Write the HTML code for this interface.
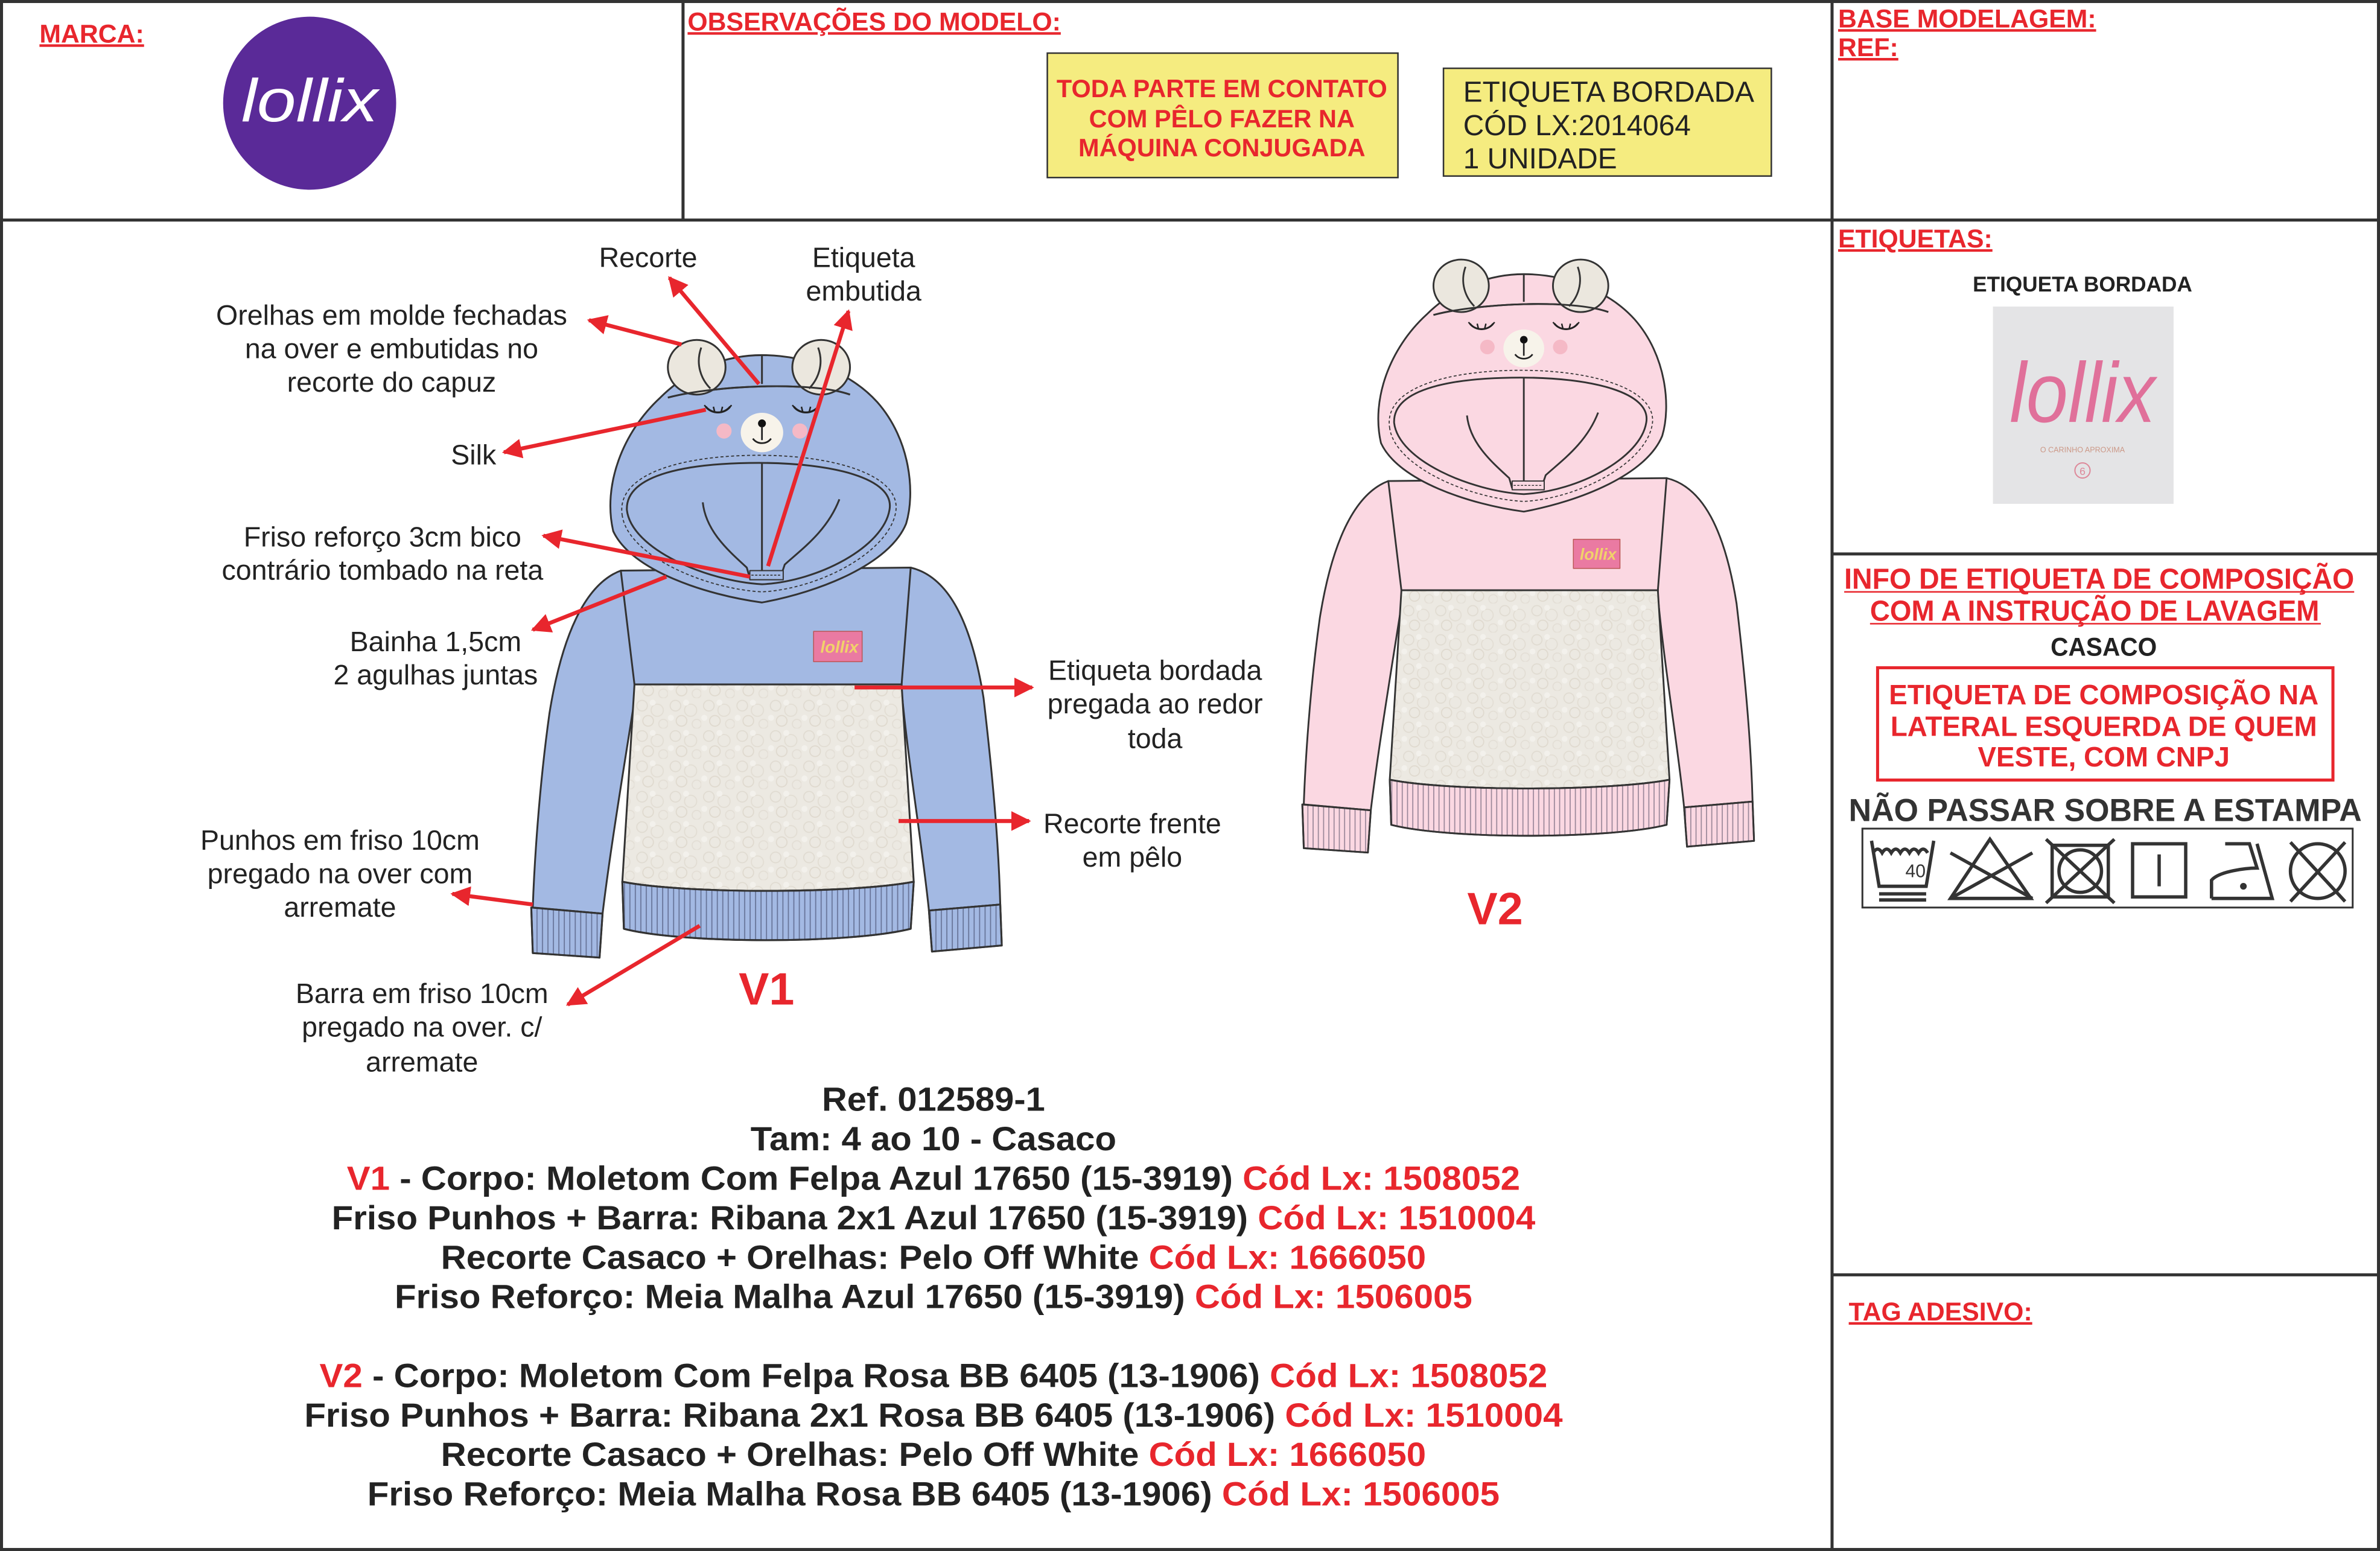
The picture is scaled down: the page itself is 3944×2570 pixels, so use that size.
<!DOCTYPE html>
<html><head><meta charset="utf-8"><style>
html,body{margin:0;padding:0;background:#fff;}
svg{display:block;}
text{font-family:"Liberation Sans",Arial,sans-serif;}
.a{font-size:18.5px;fill:#222;text-anchor:middle;}
.h{font-size:17px;font-weight:bold;fill:#e8262d;text-decoration:underline;}
.n{font-family:"Liberation Sans Narrow","Liberation Sans",sans-serif;font-weight:bold;}
.b{font-size:22px;font-weight:bold;fill:#222;text-anchor:middle;}
.r{fill:#e8262d;}
.ar{stroke:#e8262d;stroke-width:2.6;fill:none;marker-end:url(#ah);}
</style></head><body>
<svg width="3944" height="2570" viewBox="0 0 1568 1022" preserveAspectRatio="none" xmlns="http://www.w3.org/2000/svg">
<defs>
<marker id="ah" viewBox="0 0 10 10" refX="9" refY="5" markerWidth="5" markerHeight="5" orient="auto" markerUnits="strokeWidth"><path d="M0,0 L10,5 L0,10 Z" fill="#e8262d"/></marker>
<pattern id="rib" width="3.6" height="10" patternUnits="userSpaceOnUse"><line x1="1" y1="0" x2="1" y2="10" stroke="rgba(30,30,60,0.45)" stroke-width="0.7"/></pattern>
<pattern id="sh" width="22" height="20" patternUnits="userSpaceOnUse">
<rect width="22" height="20" fill="#ece9e2"/>
<circle cx="5" cy="5" r="3.5" fill="none" stroke="#e0dbd1" stroke-width="0.7"/>
<circle cx="15" cy="8" r="4" fill="none" stroke="#e2ddd3" stroke-width="0.7"/>
<circle cx="9" cy="15" r="3.5" fill="none" stroke="#dfd9ce" stroke-width="0.7"/>
<circle cx="19" cy="17" r="3" fill="none" stroke="#e3ded5" stroke-width="0.7"/>
<circle cx="2" cy="13" r="2" fill="#f3f1ec"/>
<circle cx="12" cy="3" r="2" fill="#f3f1ec"/>
</pattern>
<g id="hoodie" stroke="#333" stroke-width="1.2" stroke-linejoin="round">
 <path d="M409,376 C385,385 370,420 362,470 C355,520 352,570 351,598 L397,602 C402,560 412,500 419,455 L419,390 Z" style="fill:var(--b)"/>
 <path d="M600,374 C625,380 640,410 648,460 C655,520 658,560 659,596 L612,600 C608,560 598,500 594,455 L594,390 Z" style="fill:var(--b)"/>
 <path d="M350,598 L397,602 L395,631 L351,628 Z" style="fill:var(--b)"/>
 <path d="M350,598 L397,602 L395,631 L351,628 Z" fill="url(#rib)"/>
 <path d="M612,600 L659,596 L660,623 L614,627 Z" style="fill:var(--b)"/>
 <path d="M612,600 L659,596 L660,623 L614,627 Z" fill="url(#rib)"/>
 <path d="M409,376 L600,374 L594,451 L418,451 Z" style="fill:var(--b)"/>
 <path d="M418,451 L594,451 L602,581 C560,589 450,589 410,581 Z" fill="url(#sh)"/>
 <path d="M410,581 C450,589 560,589 602,581 L600,612 C560,622 450,622 411,612 Z" style="fill:var(--b)"/>
 <path d="M410,581 C450,589 560,589 602,581 L600,612 C560,622 450,622 411,612 Z" fill="url(#rib)"/>
 <path d="M404,350 C397,320 410,285 435,262 C455,242 480,234 502,234 C530,234 560,245 578,265 C600,290 603,325 597,345 C586,372 540,390 502,397 C465,392 416,376 404,350 Z" style="fill:var(--b)"/>
 <path d="M440,262 C470,254 535,251 560,260" fill="none"/>
 <path d="M502,234 L502,253" fill="none"/>
 <ellipse cx="459" cy="242" rx="19" ry="18" fill="#ebe7de"/>
 <ellipse cx="541" cy="242" rx="19" ry="18" fill="#ebe7de"/>
 <path d="M462,229 C458,240 462,250 468,256" fill="none"/>
 <path d="M539,229 C543,240 539,250 533,256" fill="none"/>
 <path d="M440,262 C470,254 535,251 560,260" fill="none"/>
 <path d="M410,340 C405,312 450,300 500,300 C552,300 595,314 590,338 C585,364 540,388 502,390 C464,388 414,366 410,340 Z" fill="none" stroke-dasharray="2,1.5" stroke-width="0.7"/>
 <path d="M413,336 C412,312 455,305 500,305 C548,305 590,315 586,336 C582,360 540,383 502,385 C466,383 416,362 413,336 Z" style="fill:var(--b)"/>
 <path d="M502,305 L502,380" fill="none"/>
 <path d="M463,331 C465,350 480,363 492,374 L494,381" fill="none"/>
 <path d="M553,329 C545,350 528,362 517,372 L514,381" fill="none"/>
 <rect x="494" y="376" width="22" height="6" style="fill:var(--b)" stroke-width="0.8"/>
 <line x1="495" y1="379" x2="515" y2="379" stroke-dasharray="1.5,1" stroke-width="0.6"/>
 <path d="M465,268 C469,273 477,273 481,268" fill="none" stroke="#222" stroke-width="1.3"/>
 <path d="M523,268 C527,273 535,273 539,268" fill="none" stroke="#222" stroke-width="1.3"/>
 <path d="M467,270 l-3,-3 M471,272 l-1,-4 M475,272 l1,-4 M479,270 l3,-3 M525,270 l-3,-3 M529,272 l-1,-4 M533,272 l1,-4 M537,270 l3,-3" stroke="#222" stroke-width="1"/>
 <circle cx="477" cy="284" r="5" fill="#f5b9c6" stroke="none"/>
 <circle cx="527" cy="284" r="5" fill="#f5b9c6" stroke="none"/>
 <ellipse cx="502" cy="285" rx="14" ry="13" fill="#f7f3ea" stroke="none"/>
 <circle cx="502" cy="279" r="2.6" fill="#111" stroke="none"/>
 <path d="M502,281 L502,290 M496,289 C499,293 505,293 508,289" fill="none" stroke="#222" stroke-width="1.1"/>
 <rect x="536" y="416" width="32" height="20" fill="#ea7aa2" stroke="#b55" stroke-width="0.6"/>
 <text x="553" y="430" font-size="11" font-style="italic" font-weight="bold" fill="#f1d26a" stroke="none" text-anchor="middle" font-family="Liberation Serif, serif">lollix</text>
</g>
</defs>

<g stroke="#333" stroke-width="2" fill="none">
<rect x="1" y="1" width="1566" height="1020"/>
<line x1="450" y1="1" x2="450" y2="145"/>
<line x1="1207" y1="1" x2="1207" y2="1021"/>
<line x1="1" y1="145" x2="1567" y2="145"/>
<line x1="1207" y1="365" x2="1567" y2="365"/>
<line x1="1207" y1="840" x2="1567" y2="840"/>
</g>

<text x="26" y="28" class="h">MARCA:</text>
<circle cx="204" cy="68" r="57" fill="#5a2a98"/>
<text x="204" y="80" font-size="40" font-style="italic" fill="#fff" text-anchor="middle" font-family="Liberation Serif, serif" textLength="90" lengthAdjust="spacingAndGlyphs">lollix</text>
<text x="453" y="20" class="h">OBSERVAÇÕES DO MODELO:</text>
<rect x="690" y="35" width="231" height="82" fill="#f5ec80" stroke="#333" stroke-width="1"/>
<g class="n" font-size="16.5" fill="#e8262d" text-anchor="middle">
<text x="805" y="64" font-family="Liberation Sans">TODA PARTE EM CONTATO</text>
<text x="805" y="84" font-family="Liberation Sans">COM PÊLO FAZER NA</text>
<text x="805" y="103" font-family="Liberation Sans">MÁQUINA CONJUGADA</text>
</g>
<rect x="951" y="45" width="216" height="71" fill="#f5ec80" stroke="#333" stroke-width="1"/>
<g font-size="19" fill="#222">
<text x="964" y="67">ETIQUETA BORDADA</text>
<text x="964" y="89">CÓD LX:2014064</text>
<text x="964" y="111">1 UNIDADE</text>
</g>
<text x="1211" y="18" class="h">BASE MODELAGEM:</text>
<text x="1211" y="37" class="h">REF:</text>

<text x="1211" y="163" class="h">ETIQUETAS:</text>
<text x="1372" y="192" font-size="14" font-weight="bold" fill="#222" text-anchor="middle">ETIQUETA BORDADA</text>
<rect x="1313" y="202" width="119" height="130" fill="#e4e4e6"/>
<text x="1372" y="278" font-size="56" font-style="italic" fill="#e0709a" text-anchor="middle" font-family="Liberation Serif, serif" textLength="96" lengthAdjust="spacingAndGlyphs">lollix</text>
<text x="1372" y="298" font-size="5" fill="#c98" text-anchor="middle">O CARINHO APROXIMA</text>
<circle cx="1372" cy="310" r="5" fill="none" stroke="#d89" stroke-width="0.8"/>
<text x="1372" y="313" font-size="7" fill="#d89" text-anchor="middle">6</text>

<g font-weight="bold" text-anchor="middle">
<text x="1383" y="388" font-size="19" class="r" textLength="336" lengthAdjust="spacingAndGlyphs">INFO DE ETIQUETA DE COMPOSIÇÃO</text>
<text x="1380" y="409" font-size="19" class="r" textLength="296" lengthAdjust="spacingAndGlyphs">COM A INSTRUÇÃO DE LAVAGEM</text>
<text x="1386" y="432" font-size="17" fill="#222" textLength="70" lengthAdjust="spacingAndGlyphs">CASACO</text>
<text x="1386" y="464" font-size="18.5" class="r" textLength="283" lengthAdjust="spacingAndGlyphs">ETIQUETA DE COMPOSIÇÃO NA</text>
<text x="1386" y="485" font-size="18.5" class="r" textLength="281" lengthAdjust="spacingAndGlyphs">LATERAL ESQUERDA DE QUEM</text>
<text x="1386" y="505" font-size="18.5" class="r" textLength="166" lengthAdjust="spacingAndGlyphs">VESTE, COM CNPJ</text>
<text x="1387" y="541" font-size="21" fill="#333" textLength="338" lengthAdjust="spacingAndGlyphs">NÃO PASSAR SOBRE A ESTAMPA</text>
</g>
<line x1="1215" y1="390" x2="1551" y2="390" stroke="#e8262d" stroke-width="1"/>
<line x1="1232" y1="411" x2="1529" y2="411" stroke="#e8262d" stroke-width="1"/>
<rect x="1237" y="440" width="300" height="74" fill="none" stroke="#e8262d" stroke-width="2"/>
<rect x="1227" y="546" width="323" height="52" fill="none" stroke="#333" stroke-width="1.2"/>
<g stroke="#333" stroke-width="2.2" fill="none">
<path d="M1233,554 L1238,584 L1269,584 L1274,554"/>
<path d="M1234,562 q3,-5 6,0 q3,-5 6,0 q3,-5 6,0 q3,-5 6,0 q3,-5 6,0 q3,-5 6,0"/>
<line x1="1238" y1="589" x2="1269" y2="589"/><line x1="1238" y1="593" x2="1269" y2="593"/>
<path d="M1311,553 L1338,592 L1285,592 Z"/>
<line x1="1285" y1="562" x2="1339" y2="592"/><line x1="1339" y1="562" x2="1285" y2="592"/>
<rect x="1352" y="557" width="37" height="34"/>
<circle cx="1370.5" cy="574" r="14"/>
<line x1="1348" y1="553" x2="1393" y2="595"/><line x1="1393" y1="553" x2="1348" y2="595"/>
<rect x="1405" y="556" width="35" height="35"/>
<line x1="1422.5" y1="563" x2="1422.5" y2="584"/>
<path d="M1457,592 L1457,580 C1462,574 1480,572 1487,572 L1482,556 L1466,556 M1457,592 L1497,592 L1487,556"/>
<circle cx="1527" cy="574" r="18"/>
<line x1="1509" y1="555" x2="1545" y2="594"/><line x1="1545" y1="555" x2="1509" y2="594"/>
</g>
<text x="1262" y="578" font-size="12" fill="#333" text-anchor="middle" font-family="Liberation Sans Narrow, Liberation Sans, sans-serif">40</text>
<circle cx="1478" cy="584" r="2.2" fill="#333"/>
<text x="1218" y="870" class="h">TAG ADESIVO:</text>

<use href="#hoodie" style="--b:#a3b9e3"/>
<use href="#hoodie" style="--b:#fbd8e2" transform="translate(522,-44) scale(0.96)"/>
<text x="505" y="662" font-size="30" font-weight="bold" class="r" text-anchor="middle">V1</text>
<text x="985" y="609" font-size="30" font-weight="bold" class="r" text-anchor="middle">V2</text>

<text class="a" x="427" y="176">Recorte</text>
<text class="a" x="569" y="176">Etiqueta</text>
<text class="a" x="569" y="198">embutida</text>
<text class="a" x="258" y="214">Orelhas em molde fechadas</text>
<text class="a" x="258" y="236">na over e embutidas no</text>
<text class="a" x="258" y="258">recorte do capuz</text>
<text class="a" x="312" y="306">Silk</text>
<text class="a" x="252" y="360">Friso reforço 3cm bico</text>
<text class="a" x="252" y="382">contrário tombado na reta</text>
<text class="a" x="287" y="429">Bainha 1,5cm</text>
<text class="a" x="287" y="451">2 agulhas juntas</text>
<text class="a" x="761" y="448">Etiqueta bordada</text>
<text class="a" x="761" y="470">pregada ao redor</text>
<text class="a" x="761" y="493">toda</text>
<text class="a" x="746" y="549">Recorte frente</text>
<text class="a" x="746" y="571">em pêlo</text>
<text class="a" x="224" y="560">Punhos em friso 10cm</text>
<text class="a" x="224" y="582">pregado na over com</text>
<text class="a" x="224" y="604">arremate</text>
<text class="a" x="278" y="661">Barra em friso 10cm</text>
<text class="a" x="278" y="683">pregado na over. c/</text>
<text class="a" x="278" y="706">arremate</text>

<g>
<line class="ar" x1="500" y1="253" x2="441" y2="183"/>
<line class="ar" x1="506" y1="373" x2="559" y2="205"/>
<line class="ar" x1="449" y1="227" x2="388" y2="211"/>
<line class="ar" x1="465" y1="270" x2="332" y2="298"/>
<line class="ar" x1="494" y1="380" x2="358" y2="353"/>
<line class="ar" x1="439" y1="380" x2="351" y2="415"/>
<line class="ar" x1="563" y1="453" x2="680" y2="453"/>
<line class="ar" x1="592" y1="541" x2="678" y2="541"/>
<line class="ar" x1="351" y1="596" x2="298" y2="589"/>
<line class="ar" x1="461" y1="610" x2="374" y2="662"/>
</g>

<text class="b" x="615" y="732" textLength="147" lengthAdjust="spacingAndGlyphs">Ref. 012589-1</text>
<text class="b" x="615" y="758" textLength="241" lengthAdjust="spacingAndGlyphs">Tam: 4 ao 10 - Casaco</text>
<text class="b" x="615" y="784" textLength="773" lengthAdjust="spacingAndGlyphs"><tspan class="r">V1</tspan> - Corpo: Moletom Com Felpa Azul 17650 (15-3919) <tspan class="r">Cód Lx: 1508052</tspan></text>
<text class="b" x="615" y="810" textLength="793" lengthAdjust="spacingAndGlyphs">Friso Punhos + Barra: Ribana 2x1 Azul 17650 (15-3919) <tspan class="r">Cód Lx: 1510004</tspan></text>
<text class="b" x="615" y="836" textLength="649" lengthAdjust="spacingAndGlyphs">Recorte Casaco + Orelhas: Pelo Off White <tspan class="r">Cód Lx: 1666050</tspan></text>
<text class="b" x="615" y="862" textLength="710" lengthAdjust="spacingAndGlyphs">Friso Reforço: Meia Malha Azul 17650 (15-3919) <tspan class="r">Cód Lx: 1506005</tspan></text>
<text class="b" x="615" y="914" textLength="809" lengthAdjust="spacingAndGlyphs"><tspan class="r">V2</tspan> - Corpo: Moletom Com Felpa Rosa BB 6405 (13-1906) <tspan class="r">Cód Lx: 1508052</tspan></text>
<text class="b" x="615" y="940" textLength="829" lengthAdjust="spacingAndGlyphs">Friso Punhos + Barra: Ribana 2x1 Rosa BB 6405 (13-1906) <tspan class="r">Cód Lx: 1510004</tspan></text>
<text class="b" x="615" y="966" textLength="649" lengthAdjust="spacingAndGlyphs">Recorte Casaco + Orelhas: Pelo Off White <tspan class="r">Cód Lx: 1666050</tspan></text>
<text class="b" x="615" y="992" textLength="746" lengthAdjust="spacingAndGlyphs">Friso Reforço: Meia Malha Rosa BB 6405 (13-1906) <tspan class="r">Cód Lx: 1506005</tspan></text>
</svg>
</body></html>
